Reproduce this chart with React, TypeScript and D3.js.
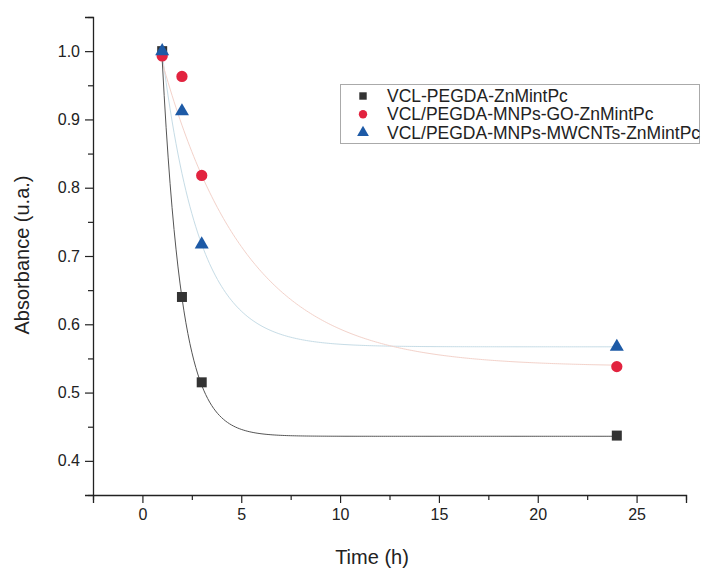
import React, { useEffect, useRef } from 'react';
import * as d3 from 'd3';

// measured times (h)
const times = [1, 2, 3, 24];

const seriesNames = [
  'VCL-PEGDA-ZnMintPc',
  'VCL/PEGDA-MNPs-GO-ZnMintPc',
  'VCL/PEGDA-MNPs-MWCNTs-ZnMintPc',
];

const absZnMintPc = [1.0, 0.64, 0.515, 0.437];
const absGO = [0.993, 0.963, 0.818, 0.538];
const absMWCNTs = [1.0, 0.912, 0.717, 0.567];

// exponential decay fits: y = y0 + A * exp(-t / tau)
const fitY0 = [0.436, 0.538, 0.567];
const fitA = [1.5, 0.563, 0.728];
const fitTau = [1.0, 4.3, 1.9];

const xTicks = [0, 5, 10, 15, 20, 25];
const yTicks = [0.4, 0.5, 0.6, 0.7, 0.8, 0.9, 1.0];

const W = 702, H = 572;
const FONT = '"Liberation Sans", Arial, sans-serif';

export default function App() {
  const ref = useRef<SVGSVGElement>(null);

  useEffect(() => {
    const svg = d3.select(ref.current);
    svg.selectAll('*').remove();

    const x = d3.scaleLinear().domain([-2.5, 27.5]).range([93, 686]);
    const y = d3.scaleLinear().domain([0.35, 1.05]).range([495, 17]);

    const values = [absZnMintPc, absGO, absMWCNTs];
    const markColors = ['#333333', '#e2233f', '#1d5aa6'];
    const lineColors = ['#555555', '#f3d2ca', '#c6dce6'];

    // fitted curves
    const tGrid = d3.range(1, 24.001, 0.1);
    [2, 1, 0].forEach(s => {
      const fit = d3.line<number>()
        .x(t => x(t))
        .y(t => y(fitY0[s] + fitA[s] * Math.exp(-t / fitTau[s])));
      svg.append('path')
        .attr('d', fit(tGrid) || '')
        .attr('fill', 'none')
        .attr('stroke', lineColors[s])
        .attr('stroke-width', 1);
    });

    // axes
    const xAxis = svg.append('g')
      .attr('transform', 'translate(0,495)')
      .call(d3.axisBottom(x).tickValues(xTicks).tickSize(8).tickPadding(6).tickFormat(d3.format('d')));
    svg.append('g')
      .attr('transform', 'translate(0,495)')
      .call(d3.axisBottom(x).tickValues(d3.range(-2.5, 27.6, 5)).tickSize(5).tickFormat(() => ''))
      .select('.domain').remove();

    const yAxis = svg.append('g')
      .attr('transform', 'translate(93,0)')
      .call(d3.axisLeft(y).tickValues(yTicks).tickSize(8).tickPadding(5).tickFormat(d3.format('.1f')));
    svg.append('g')
      .attr('transform', 'translate(93,0)')
      .call(d3.axisLeft(y).tickValues([0.35, 0.45, 0.55, 0.65, 0.75, 0.85, 0.95, 1.05]).tickSize(5).tickFormat(() => ''))
      .select('.domain').remove();

    [xAxis, yAxis].forEach(a => {
      a.select('.domain').attr('stroke', '#222').attr('stroke-width', 1.3);
      a.selectAll('text').attr('font-family', FONT).attr('font-size', 16).attr('fill', '#222');
    });
    svg.selectAll('.tick line').attr('stroke', '#222').attr('stroke-width', 1.2);

    svg.append('text')
      .attr('x', 372).attr('y', 564)
      .attr('text-anchor', 'middle')
      .attr('font-family', FONT).attr('font-size', 20).attr('fill', '#222')
      .text('Time (h)');
    svg.append('text')
      .attr('transform', 'translate(29,255) rotate(-90)')
      .attr('text-anchor', 'middle')
      .attr('font-family', FONT).attr('font-size', 20).attr('fill', '#222')
      .text('Absorbance (u.a.)');

    // markers
    const symbols = [d3.symbolSquare, d3.symbolCircle, d3.symbolTriangle];
    const sizes = [100, 100, 85];
    values.forEach((vals, s) => {
      const sym = d3.symbol().type(symbols[s]).size(sizes[s]);
      svg.append('g').selectAll('path')
        .data(vals)
        .enter()
        .append('path')
        .attr('d', sym() || '')
        .attr('transform', (d, i) => `translate(${x(times[i])},${y(d)})`)
        .attr('fill', markColors[s]);
    });

    // legend
    const lg = svg.append('g');
    lg.append('rect')
      .attr('x', 340.5).attr('y', 84.5).attr('width', 359).attr('height', 59)
      .attr('fill', 'white').attr('stroke', '#aaaaaa').attr('stroke-width', 1);
    seriesNames.forEach((name, s) => {
      const cy = 96 + s * 18.3;
      const sym = d3.symbol().type(symbols[s]).size(s === 2 ? 60 : 55);
      lg.append('path')
        .attr('d', sym() || '')
        .attr('transform', `translate(363,${cy})`)
        .attr('fill', markColors[s]);
      lg.append('text')
        .attr('x', 387).attr('y', cy + 6)
        .attr('font-family', FONT).attr('font-size', 17.5).attr('fill', '#222')
        .text(name);
    });
  }, []);

  return (
    <svg ref={ref} width={W} height={H}
      style={{ position: 'absolute', left: 0, top: 0, background: 'white' }} />
  );
}
